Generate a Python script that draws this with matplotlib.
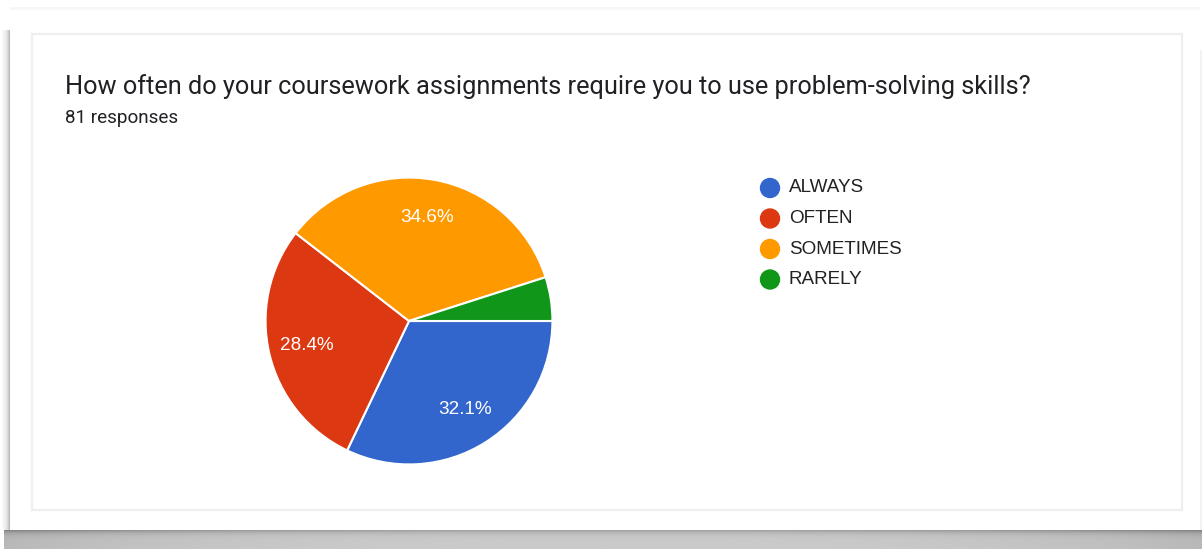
import numpy as np
import matplotlib
matplotlib.use("Agg")
import matplotlib.pyplot as plt
import matplotlib.patches as mpatches

# Survey answers (81 responses)
labels = ["ALWAYS", "OFTEN", "SOMETIMES", "RARELY"]
counts = [26, 23, 28, 4]
colors = ["#3366cc", "#dc3912", "#ff9900", "#109618"]

title = "How often do your coursework assignments require you to use problem-solving skills?"
subtitle = f"{sum(counts)} responses"

# ── Layout (pixels) ──────────────────────────────────────────
DPI = 100
W, H = 1202, 549
CARD = (10, 10, 1190, 520)        # x, y, w, h of the white card
INNER = (32, 34, 1150, 476)       # light inner frame
PIE_C = (409, 321)
PIE_R = 142

fig = plt.figure(figsize=(W / DPI, H / DPI), dpi=DPI)
fig.patch.set_facecolor("white")
ax = fig.add_axes([0, 0, 1, 1])
ax.axis("off")

# ── Drop shadow round the card ───────────────────────────────
x0, y0, cw, ch = CARD
# bottom: darker towards the corners, fading downward
xs = np.linspace(0, 1, 600)
ys = np.linspace(0, 1, 40)
edge = 0.75 + 0.25 * (np.abs(xs - 0.5) * 2) ** 3
fade = 0.55 + 0.45 * np.exp(-ys * 6.0)
shade = 1 - 0.50 * np.outer(fade, edge)
ax.imshow(shade, cmap="gray", vmin=0, vmax=1, extent=(x0 - 6, x0 + cw + 2, H, y0 + ch),
          aspect="auto", zorder=1, interpolation="bilinear")
# left side
side = 1 - 0.30 * np.exp(-np.linspace(1, 0, 20) * 2.5)
ax.imshow(side[None, :], cmap="gray", vmin=0, vmax=1, extent=(x0 - 8, x0, y0 + ch, y0 + 20),
          aspect="auto", zorder=1, interpolation="bilinear")
# top and right, very faint
ax.add_patch(mpatches.Rectangle((x0, y0 - 3), cw, 3, color="#f7f7f7", zorder=1, lw=0))
ax.add_patch(mpatches.Rectangle((x0 + cw, y0 + 40), 2, ch - 40, color="#f2f2f2", zorder=1, lw=0))

ax.add_patch(mpatches.Rectangle((x0, y0), cw, ch, facecolor="white", edgecolor="none", zorder=2))
ax.add_patch(mpatches.Rectangle(INNER[:2], INNER[2], INNER[3], facecolor="white",
                                edgecolor="#efefef", lw=1.6, zorder=3))

# ── Header ───────────────────────────────────────────────────
ax.text(65, 87, title, color="#202124", fontsize=18.3, family="Roboto", va="center", zorder=4)
ax.text(65, 118, subtitle, color="#202124", fontsize=13.6, family="Roboto", va="center", zorder=4)

# ── Legend ───────────────────────────────────────────────────
for i, (lab, col) in enumerate(zip(labels, colors)):
    ly = 188 + i * 30.5
    ax.add_patch(mpatches.Circle((770, ly), 9.5, color=col, zorder=4))
    ax.text(789, ly, lab, color="#222222", fontsize=13.6, family="Liberation Sans",
            va="center", ha="left", zorder=4)

ax.set_xlim(0, W)
ax.set_ylim(H, 0)   # y=0 at top

# ── Pie ──────────────────────────────────────────────────────
pax = fig.add_axes([(PIE_C[0] - PIE_R) / W, (H - PIE_C[1] - PIE_R) / H, 2 * PIE_R / W, 2 * PIE_R / H])
pax.set_zorder(5)
wedges, _, autotexts = pax.pie(
    counts, colors=colors, startangle=0, counterclock=False,
    autopct=lambda p: f"{p:.1f}%" if p > 6 else "", pctdistance=0.73,
    wedgeprops=dict(edgecolor="white", linewidth=1.5),
    textprops=dict(color="white", fontsize=13.6, family="Liberation Sans"),
)
pax.set_xlim(-0.99, 0.99)
pax.set_ylim(-0.99, 0.99)
pax.set_aspect("equal")
pax.axis("off")

fig.savefig("out.png", dpi=DPI, facecolor="white")
plt.close(fig)
